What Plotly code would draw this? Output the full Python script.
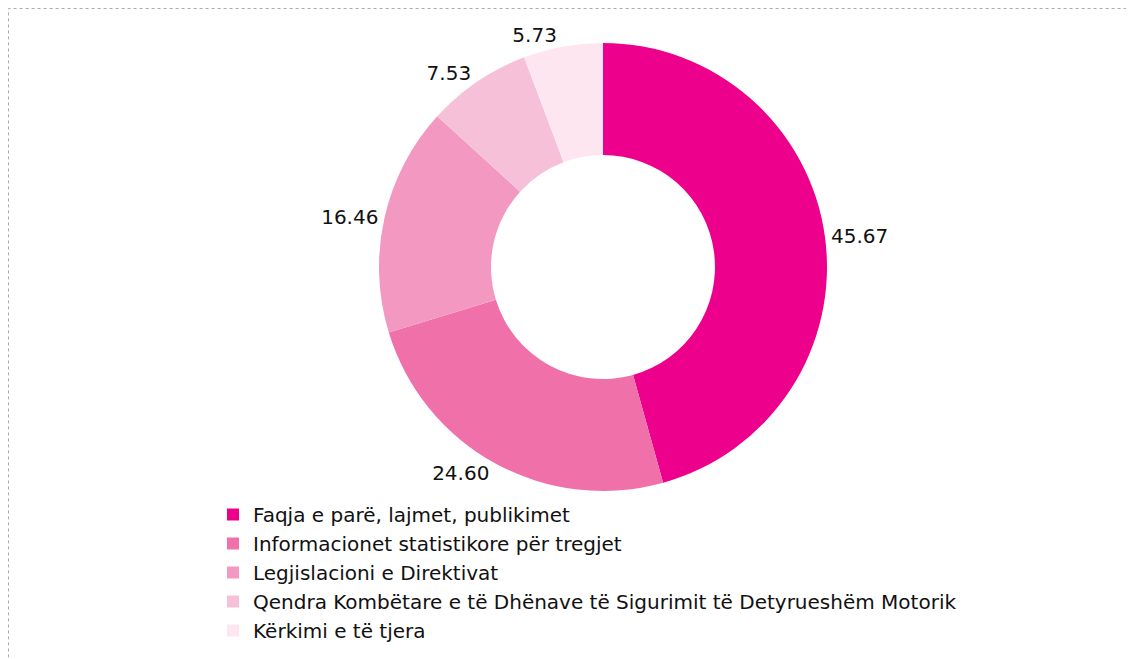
import plotly.graph_objects as go

labels = [
    "Faqja e parë, lajmet, publikimet",
    "Informacionet statistikore për tregjet",
    "Legjislacioni e Direktivat",
    "Qendra Kombëtare e të Dhënave të Sigurimit të Detyrueshëm Motorik",
    "Kërkimi e të tjera",
]
values = [45.67, 24.60, 16.46, 7.53, 5.73]
colors = ["#EC008C", "#F071AA", "#F398C0", "#F7C0D9", "#FDE6F0"]

# page body has an 8px margin, so the figure is sized to fit the window
OFF = 8
W, H = 1134 - OFF, 659 - OFF
cx, cy, r = 603 - OFF, 267 - OFF, 224

fig = go.Figure(go.Pie(
    labels=labels,
    values=values,
    sort=False,
    direction="clockwise",
    rotation=0,
    hole=0.5,
    marker=dict(colors=colors, line=dict(width=0)),
    texttemplate="%{value:.2f}",
    textposition="outside",
    textfont=dict(family="DejaVu Sans", size=20, color="#111111"),
    domain=dict(x=[(cx - r) / W, (cx + r) / W], y=[1 - (cy + r) / H, 1 - (cy - r) / H]),
))

fig.update_layout(
    width=W, height=H,
    margin=dict(l=0, r=0, t=0, b=0),
    paper_bgcolor="white",
    plot_bgcolor="white",
    font=dict(family="DejaVu Sans", size=20, color="#111111"),
    legend=dict(
        x=(213 - OFF) / W, y=1 - (495 - OFF) / H, xanchor="left", yanchor="top",
        font=dict(family="DejaVu Sans", size=20, color="#111111"),
        bgcolor="rgba(0,0,0,0)",
    ),
    shapes=[dict(
        type="rect", xref="paper", yref="paper",
        x0=0.5 / W, x1=1.2, y0=-0.2, y1=1 - 0.5 / H,
        line=dict(color="#AAAAAA", width=1, dash="dot"),
        fillcolor="rgba(0,0,0,0)",
    )],
)

fig.write_html("out.html")
